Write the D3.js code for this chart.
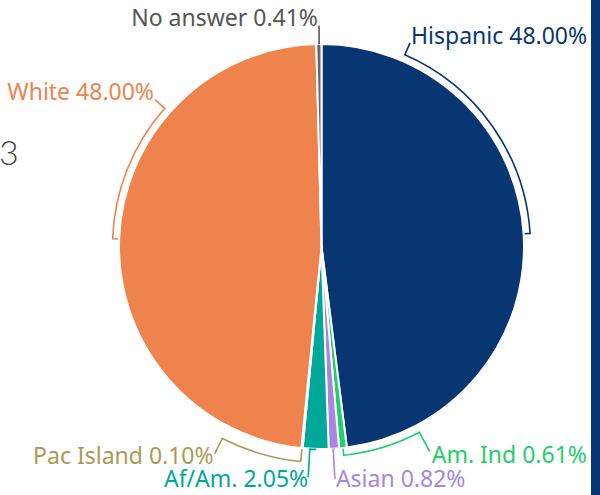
<!DOCTYPE html>
<html>
<head>
<meta charset="utf-8">
<script src="https://cdn.jsdelivr.net/npm/d3@7"></script>
<style>
  body { margin: 0; background: #fff; }
  svg { display: block; }
</style>
</head>
<body>
<div id="canvas"></div>
<script>
// data, clockwise from 12 o'clock
var categories = ['Hispanic', 'Am. Ind', 'Asian', 'Af/Am.', 'Pac Island', 'White', 'No answer'];
var shares = [48.00, 0.61, 0.82, 2.05, 0.10, 48.00, 0.41];
var colors = ['#083672', '#1fcf69', '#a886e0', '#00a89a', '#a99a55', '#ee834e', '#666666'];
var labelColors = ['#083672', '#1fcf69', '#a886e0', '#00a89a', '#a99a55', '#ee834e', '#555555'];

// leader layout: bracket radius, angle where the label sits (deg), leader end radius, text anchor, offsets
var leaders = [
    {arcR: 209, angle: 23.5, endR: 222, anchor: 'start', dx: 1, dy: 1},
    {arcR: 210, angle: 152.2, endR: 232, anchor: 'start', dx: 2, dy: 11},
    {arcR: 203, angle: 176.7, endR: 233, anchor: 'start', dx: 1, dy: 8},
    {arcR: 203, angle: 183.3, endR: 231, anchor: 'end', dx: 0, dy: 10},
    {arcR: 216, angle: 207.3, endR: 233, anchor: 'end', dx: -1, dy: 10},
    {arcR: 209, angle: 311.4, endR: 222, anchor: 'end', dx: -1, dy: 0},
    {arcR: 203, angle: 359.35, endR: 221, anchor: 'end', dx: -1, dy: 0}
];

var W = 600, H = 495;
var cx = 321.5, cy = 246.5, r = 202.5;

var svg = d3.select('#canvas').append('svg').attr('width', W).attr('height', H);

// cut-off title on the left and side bar on the right
svg.append('text').attr('x', -1).attr('y', 165)
    .attr('font-family', 'Lato, sans-serif').attr('font-weight', 300)
    .attr('font-size', 34).attr('fill', '#444').text('3');
svg.append('rect').attr('x', 591).attr('y', 0).attr('width', 9).attr('height', H).attr('fill', '#083672');

var rows = categories.map(function(c, i){
    return {name: c, value: shares[i], color: colors[i], lc: labelColors[i], lead: leaders[i]};
});

var pie = d3.pie().sort(null).value(function(d){ return d.value; });
var arcs = pie(rows);
var arc = d3.arc().innerRadius(0).outerRadius(r);

var g = svg.append('g').attr('transform', 'translate(' + cx + ',' + cy + ')');

g.selectAll('path.slice').data(arcs).enter().append('path')
    .attr('class', 'slice')
    .attr('d', arc)
    .attr('fill', function(d){ return d.data.color; })
    .attr('stroke', '#fff').attr('stroke-width', 2).attr('stroke-linejoin', 'round');

var rad = Math.PI / 180;
function pt(a, rr){ return [rr * Math.sin(a), -rr * Math.cos(a)]; }

g.selectAll('path.leader').data(arcs).enter().append('path')
    .attr('class', 'leader')
    .attr('fill', 'none')
    .attr('stroke', function(d){ return d.data.lc; })
    .attr('stroke-width', 1.6)
    .attr('d', function(d){
        var L = d.data.lead;
        var mid = (d.startAngle + d.endAngle) / 2;
        var to = L.angle * rad;
        var p0 = pt(mid, r + 1), p1 = pt(mid, L.arcR), p2 = pt(to, L.arcR), p3 = pt(to, L.endR);
        var sweep = to > mid ? 1 : 0;
        var large = Math.abs(to - mid) > Math.PI ? 1 : 0;
        return 'M' + p0 + 'L' + p1 + 'A' + L.arcR + ',' + L.arcR + ' 0 ' + large + ' ' + sweep + ' ' + p2 + 'L' + p3;
    });

g.selectAll('text.label').data(arcs).enter().append('text')
    .attr('class', 'label')
    .attr('font-family', '"Noto Sans", sans-serif')
    .attr('font-size', 23)
    .attr('fill', function(d){ return d.data.lc; })
    .attr('text-anchor', function(d){ return d.data.lead.anchor; })
    .attr('x', function(d){ return pt(d.data.lead.angle * rad, d.data.lead.endR)[0] + d.data.lead.dx; })
    .attr('y', function(d){ return pt(d.data.lead.angle * rad, d.data.lead.endR)[1] + d.data.lead.dy; })
    .text(function(d){ return d.data.name + ' ' + d3.format('.2f')(d.data.value) + '%'; });
</script>
</body>
</html>
